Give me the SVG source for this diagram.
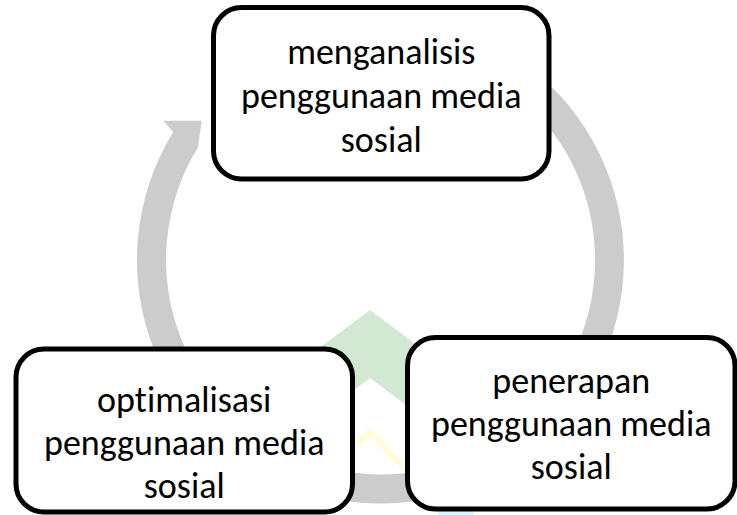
<svg xmlns="http://www.w3.org/2000/svg" width="737" height="515" viewBox="0 0 737 515">
<style>
.node rect{fill:#fff;stroke:#000;stroke-width:5}
.node text{font-family:Carlito,Lato,"Liberation Sans",sans-serif;font-size:36px;fill:#000;text-anchor:middle;font-variant-ligatures:none;font-feature-settings:"liga" 0}
.ring{fill:#CCCCCC}
</style>
<rect width="737" height="515" fill="#fff"/>
<g id="watermark">
<polygon points="370,310 470,385 470,453 370,378 270,453 270,385" fill="#D2E8D2"/>
<polyline points="338,458 370,432 408,472" fill="none" stroke="#FFFCD6" stroke-width="6"/>
<rect x="438" y="506" width="36" height="9" fill="#DDF5FA"/>
</g>
<g id="connectors">
<path class="ring" d="M 297.2 31.2 A 243.5 243.5 0 1 1 173.3 132.0 L 163.3 120.7 L 201.7 120.7 L 198.0 147.3 A 214.5 214.5 0 1 0 307.1 58.4 Z"/>
</g>
<g id="node1" class="node">
<rect x="213.5" y="7.5" width="335.5" height="171.5" rx="28"/>
<text x="381.25" y="64">menganalisis</text>
<text x="381.25" y="108">penggunaan media</text>
<text x="381.25" y="152">sosial</text>
</g>
<g id="node2" class="node">
<rect x="407.5" y="337.5" width="327.5" height="171.5" rx="28"/>
<text x="571.25" y="392.5">penerapan</text>
<text x="571.25" y="436">penggunaan media</text>
<text x="571.25" y="479">sosial</text>
</g>
<g id="node3" class="node">
<rect x="16" y="349" width="336.5" height="163" rx="28"/>
<text x="184.25" y="412">optimalisasi</text>
<text x="184.25" y="455">penggunaan media</text>
<text x="184.25" y="498">sosial</text>
</g>
</svg>
